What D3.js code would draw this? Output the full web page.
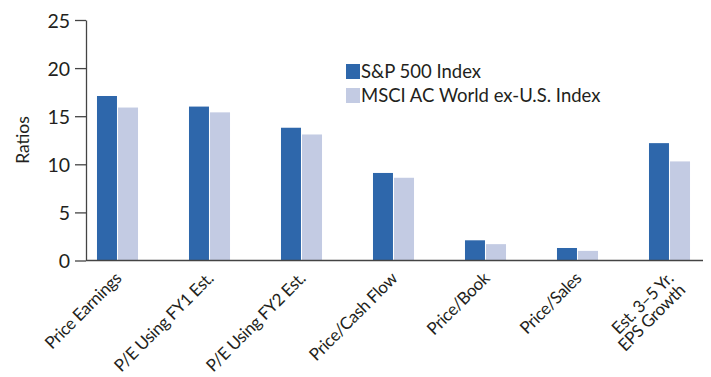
<!DOCTYPE html>
<html>
<head>
<meta charset="utf-8">
<script src="https://cdn.jsdelivr.net/npm/d3@7"></script>
<style>
  body { margin: 0; background: #fff; }
  text { font-family: Lato, "Open Sans", sans-serif; fill: #231f20; }
</style>
</head>
<body>
<div id="chart"></div>
<script>
// data
var categories = ["Price Earnings", "P/E Using FY1 Est.", "P/E Using FY2 Est.", "Price/Cash Flow",
                  "Price/Book", "Price/Sales", "Est. 3–5 Yr.|EPS Growth"];
var seriesNames = ["S&P 500 Index", "MSCI AC World ex-U.S. Index"];
var spValues = [17.1, 16.0, 13.8, 9.1, 2.1, 1.3, 12.2];
var msciValues = [15.9, 15.4, 13.1, 8.6, 1.7, 1.0, 10.3];
var yTicks = [0, 5, 10, 15, 20, 25];

var width = 711, height = 377;
var plotLeft = 86, plotRight = 703, plotTop = 20, plotBottom = 260.5;

var color = d3.scaleOrdinal()
    .domain(seriesNames)
    .range(["#2e67ab", "#c3cbe3"]);

var svg = d3.select("#chart")
  .append("svg")
    .attr("width", width)
    .attr("height", height);

// y scale + axis
var y = d3.scaleLinear()
    .domain([0, 25])
    .range([plotBottom, plotTop]);

var yAxis = svg.append("g")
    .attr("transform", "translate(" + plotLeft + ",0)")
    .call(d3.axisLeft(y).tickValues(yTicks).tickSize(11).tickSizeOuter(0).tickPadding(5));
yAxis.select(".domain").attr("stroke", "#444").attr("stroke-width", 1.3);
yAxis.selectAll(".tick line").attr("stroke", "#444").attr("stroke-width", 1.3);
yAxis.selectAll(".tick text")
    .style("font-size", "19.5px")
    .attr("fill", "#231f20")
    .attr("dy", "0.36em");

svg.append("text")
    .attr("transform", "translate(29,140) rotate(-90)")
    .attr("text-anchor", "middle")
    .style("font-size", "17.5px")
    .text("Ratios");

// x scales
var x0 = d3.scaleBand()
    .domain(categories)
    .range([71.5, 715.5])
    .paddingInner(0.554)
    .paddingOuter(0.277);

var x1 = d3.scaleBand()
    .domain(seriesNames)
    .range([0, x0.bandwidth()])
    .paddingInner(0.05);

var rows = categories.map(function(c, i) {
  return { cat: c, vals: [ { k: seriesNames[0], v: spValues[i] }, { k: seriesNames[1], v: msciValues[i] } ] };
});

var groups = svg.selectAll(".grp")
  .data(rows)
  .enter().append("g")
    .attr("class", "grp")
    .attr("transform", function(d) { return "translate(" + x0(d.cat) + ",0)"; });

groups.selectAll("rect")
  .data(function(d) { return d.vals; })
  .enter().append("rect")
    .attr("x", function(d) { return x1(d.k); })
    .attr("y", function(d) { return y(d.v); })
    .attr("width", x1.bandwidth())
    .attr("height", function(d) { return y(0) - y(d.v); })
    .attr("fill", function(d) { return color(d.k); });

// x axis line
svg.append("line")
    .attr("x1", plotLeft).attr("x2", plotRight)
    .attr("y1", y(0)).attr("y2", y(0))
    .attr("stroke", "#444")
    .attr("stroke-width", 1.3);

// category labels, rotated 45deg, end anchored under each group
var labels = svg.selectAll(".xlab")
  .data(categories)
  .enter().append("text")
    .attr("class", "xlab")
    .attr("text-anchor", "end")
    .style("font-size", "17px")
    .style("letter-spacing", "-0.4px")
    .attr("transform", function(d) {
      var cx = x0(d) + x0.bandwidth() / 2;
      return "translate(" + cx + "," + y(0) + ") rotate(-45)";
    });

labels.each(function(d) {
  var parts = d.split("|");
  var t = d3.select(this);
  parts.forEach(function(p, i) {
    t.append("tspan")
      .attr("x", -10)
      .attr("dy", i == 0 ? 17 : 16.5)
      .text(p);
  });
});

// legend
var legend = svg.selectAll(".legend")
  .data(seriesNames)
  .enter().append("g")
    .attr("class", "legend")
    .attr("transform", function(d, i) { return "translate(346," + (64 + i * 24) + ")"; });

legend.append("rect")
    .attr("width", 14)
    .attr("height", 15)
    .attr("fill", function(d) { return color(d); });

legend.append("text")
    .attr("x", 15)
    .attr("y", 14)
    .style("font-size", "18.5px")
    .attr("fill", "#3a3a3a")
    .text(function(d) { return d; });
</script>
</body>
</html>
